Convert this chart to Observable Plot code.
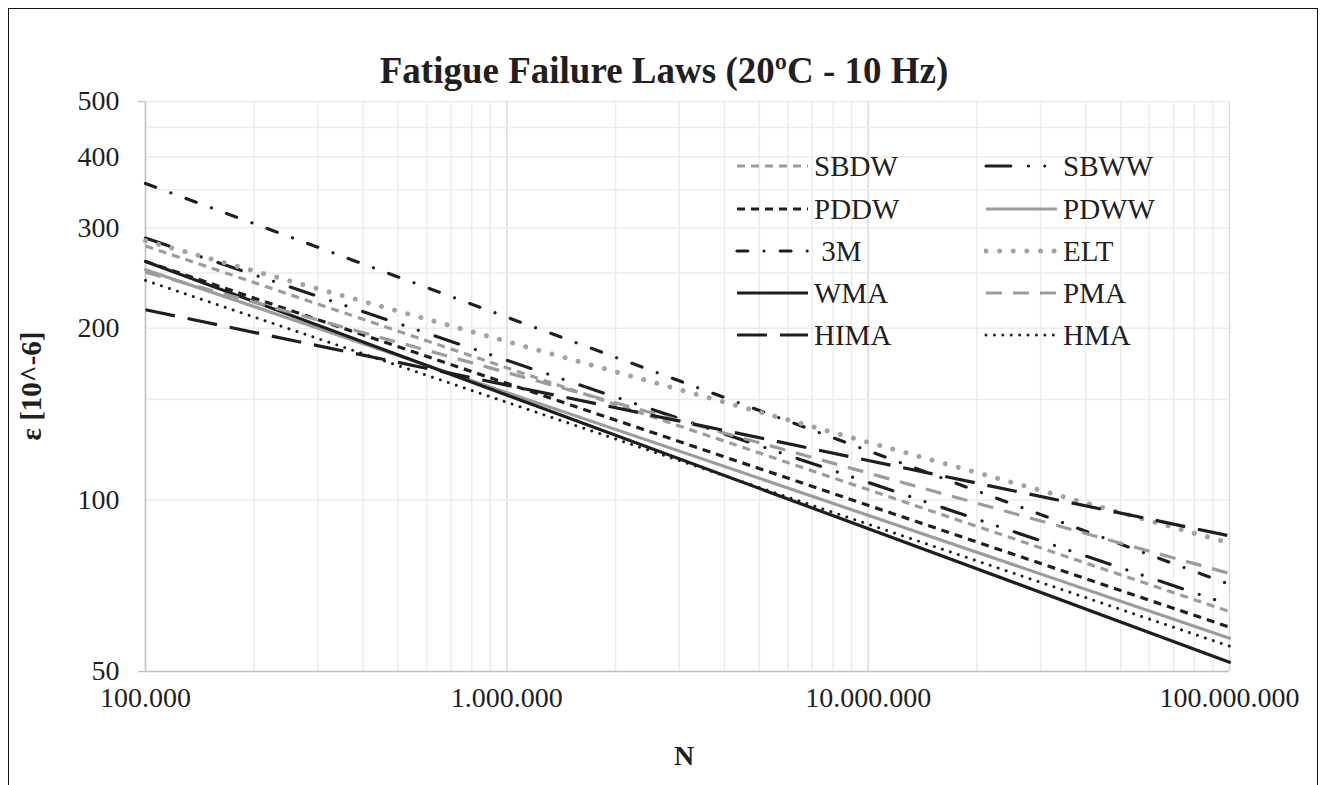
<!DOCTYPE html>
<html>
<head>
<meta charset="utf-8">
<script src="https://cdn.jsdelivr.net/npm/d3@7"></script>
<script src="https://cdn.jsdelivr.net/npm/@observablehq/plot@0.6"></script>
<style>
  html, body { margin: 0; padding: 0; background: #fff; }
  #wrap { position: relative; width: 1327px; height: 785px; overflow: hidden; font-family: "Liberation Serif", "Times New Roman", serif; color: #231f20; }
  #frame { position: absolute; left: 8px; top: 8px; width: 1310px; height: 820px; border: 1.5px solid #111; box-sizing: border-box; }
  #title { position: absolute; left: 0; width: 1328px; top: 49px; text-align: center; font-weight: bold; font-size: 37px; line-height: 44px; }
  #chart { position: absolute; left: 0; top: 0; }
  #xlabel { position: absolute; left: 0; width: 1368px; top: 740px; text-align: center; font-weight: bold; font-size: 28px; line-height: 32px; }
  #ylabel { position: absolute; left: 31px; top: 386px; transform: translate(-50%, -50%) rotate(-90deg); font-weight: bold; font-size: 29px; white-space: nowrap; }
  .leg { position: absolute; display: flex; align-items: center; font-size: 29px; height: 32px; white-space: pre; font-family: "Liberation Serif", "Times New Roman", serif; }
  .leg svg { margin-right: 5px; }
</style>
</head>
<body>
<div id="wrap">
  <div id="frame"></div>
  <div id="chart"></div>
  <div id="title">Fatigue Failure Laws (20ºC - 10 Hz)</div>
  <div id="xlabel">N</div>
  <div id="ylabel">ε [10^-6]</div>
  <div id="legend"></div>
</div>
<script>
// ---- data (values at N = 100.000 and N = 100.000.000) ----
const N = [1e5, 1e8];
const SBDW = [279, 63.7];
const SBWW = [288, 65.5];
const PDDW = [262, 59.8];
const PDWW = [253.5, 57.2];
const M3   = [359, 71.1];
const ELT  = [285, 84.0];
const WMA  = [262, 51.9];
const PMA  = [251, 74.3];
const HIMA = [215.6, 86.5];
const HMA  = [242.7, 55.4];

const seriesNames = ["SBDW", "SBWW", "PDDW", "PDWW", " 3M", "ELT", "WMA", "PMA", "HIMA", "HMA"];
const seriesValues = [SBDW, SBWW, PDDW, PDWW, M3, ELT, WMA, PMA, HIMA, HMA];

const xTicks = [1e5, 1e6, 1e7, 1e8];
const xTickLabels = ["100.000", "1.000.000", "10.000.000", "100.000.000"];
const yTicks = [50, 100, 200, 300, 400, 500];
const yTickLabels = ["50", "100", "200", "300", "400", "500"];
const yGrid = [50, 100, 150, 200, 250, 300, 350, 400, 450, 500];
const xMinorGrid = [2, 3, 4, 5, 6, 7, 8, 9].flatMap(k => [k * 1e5, k * 1e6, k * 1e7]);

// ---- styles ----
const BLACK = "#1e1e1e", GRAY = "#9c9c9c", LGRAY = "#a3a3a3";
const styles = {
  "SBDW": {stroke: GRAY, strokeWidth: 3.2, strokeDasharray: "8 6", strokeLinecap: "butt"},
  "SBWW": {stroke: BLACK, strokeWidth: 3.2, strokeDasharray: "24.8 17.7 0.01 16.2 0.01 17.7", strokeLinecap: "round"},
  "PDDW": {stroke: BLACK, strokeWidth: 3.2, strokeDasharray: "8 6", strokeLinecap: "butt"},
  "PDWW": {stroke: GRAY, strokeWidth: 3.2},
  " 3M":  {stroke: BLACK, strokeWidth: 3.2, strokeDasharray: "10.8 16.2 0.01 16.2", strokeLinecap: "round"},
  "ELT":  {stroke: LGRAY, strokeWidth: 5, strokeDasharray: "0.01 13.6", strokeLinecap: "round"},
  "WMA":  {stroke: BLACK, strokeWidth: 3.2},
  "PMA":  {stroke: GRAY, strokeWidth: 3.2, strokeDasharray: "16 11", strokeLinecap: "butt"},
  "HIMA": {stroke: BLACK, strokeWidth: 3.2, strokeDasharray: "30 13", strokeLinecap: "butt"},
  "HMA":  {stroke: BLACK, strokeWidth: 3, strokeDasharray: "0.01 8.4", strokeLinecap: "round"}
};

const rows = seriesNames.flatMap((name, i) => N.map((n, j) => ({series: name, N: n, eps: seriesValues[i][j]})));

const lineMarks = seriesNames.map(name =>
  Plot.line(rows.filter(r => r.series === name), {x: "N", y: "eps", ...styles[name]})
);

const xFmt = d => xTickLabels[xTicks.findIndex(t => Math.abs(t - d) / t < 1e-9)];
const yFmt = d => yTickLabels[yTicks.findIndex(t => Math.abs(t - d) / t < 1e-9)];

const chart = Plot.plot({
  width: 1327,
  height: 785,
  marginLeft: 145,
  marginRight: 98,
  marginTop: 101,
  marginBottom: 114,
  style: {fontFamily: "'Liberation Serif', 'Times New Roman', serif", fontSize: "28px", color: "#231f20", background: "transparent"},
  x: {type: "log", domain: [1e5, 1e8]},
  y: {type: "log", domain: [50, 500]},
  marks: [
    Plot.gridX(xMinorGrid, {stroke: "#ebebeb", strokeOpacity: 1, strokeWidth: 1.5}),
    Plot.gridX(xTicks, {stroke: "#d9d9d9", strokeOpacity: 1, strokeWidth: 1.5}),
    Plot.gridY(yGrid, {stroke: "#ebebeb", strokeOpacity: 1, strokeWidth: 1.5}),
    Plot.ruleX([1e5], {stroke: "#c4c4c4", strokeWidth: 1.5}),
    Plot.ruleY([50], {stroke: "#c4c4c4", strokeWidth: 1.5}),
    Plot.axisX(xTicks, {tickSize: 0, tickPadding: 16, tickFormat: xFmt, label: null, fontSize: 28}),
    Plot.axisY(yTicks, {tickSize: 0, tickPadding: 26, tickFormat: yFmt, label: null, fontSize: 28}),
    Plot.axisY([50, 500], {tickSize: 7, tickFormat: () => "", label: null, stroke: "#c4c4c4", strokeWidth: 1.5}),
    ...lineMarks
  ]
});
document.getElementById("chart").appendChild(chart);

// ---- legend (inside the plot area, two columns) ----
const legend = document.getElementById("legend");
const legendOrder = [["SBDW", "SBWW"], ["PDDW", "PDWW"], [" 3M", "ELT"], ["WMA", "PMA"], ["HIMA", "HMA"]];
const rowY = [166, 209, 251, 293, 335];
const colX = [735, 984];
legendOrder.forEach((pair, r) => {
  pair.forEach((name, c) => {
    const s = styles[name];
    const div = document.createElement("div");
    div.className = "leg";
    div.style.left = colX[c] + "px";
    div.style.top = (rowY[r] - 16) + "px";
    const ns = "http://www.w3.org/2000/svg";
    const svg = document.createElementNS(ns, "svg");
    svg.setAttribute("width", 74); svg.setAttribute("height", 32);
    const ln = document.createElementNS(ns, "line");
    ln.setAttribute("x1", 2); ln.setAttribute("x2", 73); ln.setAttribute("y1", 16); ln.setAttribute("y2", 16);
    ln.setAttribute("stroke", s.stroke);
    ln.setAttribute("stroke-width", s.strokeWidth);
    if (s.strokeDasharray) ln.setAttribute("stroke-dasharray", s.strokeDasharray);
    if (s.strokeLinecap) ln.setAttribute("stroke-linecap", s.strokeLinecap);
    svg.appendChild(ln);
    div.appendChild(svg);
    const t = document.createElement("span");
    t.textContent = name;
    div.appendChild(t);
    legend.appendChild(div);
  });
});
</script>
</body>
</html>
